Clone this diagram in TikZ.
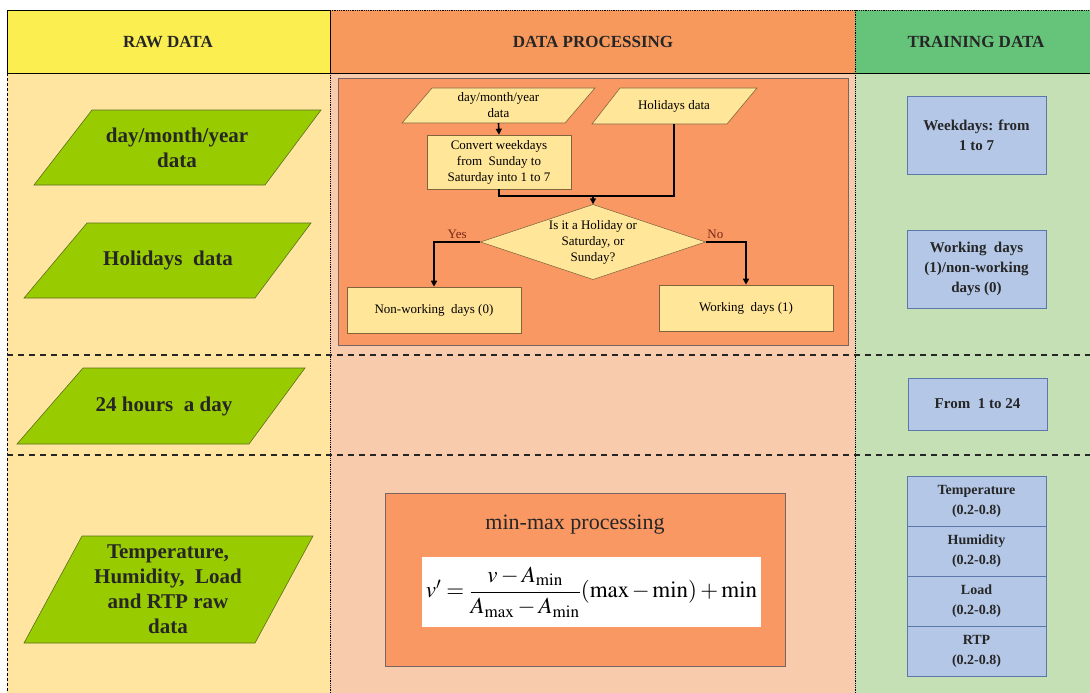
\documentclass[tikz,border=0pt]{standalone}
\usepackage{amsmath}
\usepackage{mathptmx}
\usepackage[no-math]{fontspec}
\setmainfont{Liberation Serif}
\usetikzlibrary{arrows.meta}

\definecolor{hdryellow}{RGB}{250,238,80}
\definecolor{rawbody}{RGB}{255,229,160}
\definecolor{hdrorange}{RGB}{247,153,92}
\definecolor{procbody}{RGB}{248,203,173}
\definecolor{procbox}{RGB}{250,152,100}
\definecolor{procedge}{RGB}{120,100,100}
\definecolor{hdrgreen}{RGB}{102,196,122}
\definecolor{trainbody}{RGB}{197,224,180}
\definecolor{trainblue}{RGB}{180,199,231}
\definecolor{blueedge}{RGB}{90,120,170}
\definecolor{rawgreen}{RGB}{153,204,0}
\definecolor{greenedge}{RGB}{90,110,30}
\definecolor{flowfill}{RGB}{255,230,153}
\definecolor{flowedge}{RGB}{130,100,60}
\definecolor{labelred}{RGB}{120,40,20}

\begin{document}
\begin{tikzpicture}[x=1pt,y=-1pt,
  hdr/.style={font=\fontsize{17}{20}\selectfont\bfseries,text=black!85},
  rawtxt/.style={font=\fontsize{21}{25}\selectfont\bfseries,align=center,text=black!85},
  greenpara/.style={draw=greenedge,fill=rawgreen,line width=0.6pt},
  flowpara/.style={draw=flowedge,fill=flowfill,line width=0.6pt},
  flowtxt/.style={font=\fontsize{13}{16}\selectfont,align=center,inner sep=0pt},
  flowbox/.style={draw=flowedge,fill=flowfill,line width=0.6pt,flowtxt},
  flowarrow/.style={line width=1.6pt,-{Triangle[length=6pt,width=6pt]}},
  trainbox/.style={draw=blueedge,fill=trainblue,line width=0.8pt,
    font=\fontsize{15}{20}\selectfont\bfseries,align=center,
    minimum width=139,inner sep=0pt,text=black!85},
  rowline/.style={dash pattern=on 6pt off 5pt,line width=1.6pt,black!85},
  coldiv/.style={densely dotted,line width=0.8pt}
]
\useasboundingbox (0,0) rectangle (1090,693);

% columns
\fill[rawbody] (7,73) rectangle (330,693);
\fill[procbody] (330,73) rectangle (855,693);
\fill[trainbody] (855,73) rectangle (1090,693);
\fill[hdryellow] (7,10) rectangle (330,73);
\fill[hdrorange] (330,10) rectangle (855,73);
\fill[hdrgreen] (855,10) rectangle (1090,73);
\draw[line width=0.8pt] (7,10) rectangle (330,73);
\draw[line width=0.8pt] (330,73) -- (1090,73);
\draw[coldiv] (330,10) -- (1090,10);
\draw[coldiv] (855,10) -- (855,693);
\draw[coldiv] (330,73) -- (330,693);
\draw[dash pattern=on 3pt off 2pt,line width=0.6pt] (7,73) -- (7,693);
\draw[rowline] (7,355) -- (1090,355);
\draw[rowline] (7,455) -- (1090,455);

\node[hdr] (rawhead) at (168,42) {RAW DATA};
\node[hdr] (prochead) at (593,42) {DATA PROCESSING};
\node[hdr] (trainhead) at (976,42) {TRAINING DATA};

% raw data
\draw[greenpara] (92,110) -- (321,110) -- (265,185) -- (34,185) -- cycle;
\node[rawtxt] (rawdate) at (177,147.5) {day/month/year\\data};
\draw[greenpara] (87,223) -- (311,223) -- (255,298) -- (24,298) -- cycle;
\node[rawtxt] (rawhol) at (168,260.5) {Holidays\ \ data};
\draw[greenpara] (83,368) -- (305,368) -- (249,444) -- (17,444) -- cycle;
\node[rawtxt] (rawhour) at (164,406) {24 hours\ \ a day};
\draw[greenpara] (82,536) -- (313,536) -- (255,643) -- (24,643) -- cycle;
\node[rawtxt] (rawmeas) at (168,589.5) {Temperature,\\Humidity,\ \ Load\\and RTP raw\\data};

% data processing
\draw[procedge,fill=procbox,line width=0.6pt] (338,78) rectangle (848,345);
\draw[flowpara] (432,88) -- (595,88) -- (565,123) -- (402,123) -- cycle;
\node[flowtxt,minimum height=35] (fdate) at (498.5,105.5) {day/month/year\\data};
\draw[flowpara] (620,88) -- (757,88) -- (727,124) -- (592,124) -- cycle;
\node[flowtxt,minimum height=36] (fhol) at (674,106) {Holidays data};
\node[flowbox,minimum width=144,minimum height=54] (convert) at (499,162)
  {Convert weekdays\\from\ \ Sunday to\\Saturday into 1 to 7};
\draw[flowpara] (480.5,242) -- (593,204.5) -- (705.5,242) -- (593,279.5) -- cycle;
\node[flowtxt,minimum width=225,minimum height=75] (decide) at (593,242)
  {Is it a Holiday or\\Saturday, or\\Sunday?};
\node[flowbox,minimum width=174,minimum height=46] (nonwork) at (434,310) {Non-working\ \ days (0)};
\node[flowbox,minimum width=174,minimum height=46] (work) at (746,308) {Working\ \ days (1)};
\coordinate (join) at (593,196);

\draw[flowarrow] (fdate.south) -- (convert.north);
\draw[line width=1.6pt] (convert.south) |- (join);
\draw[flowarrow] (fhol.south) |- (join) -- (decide.north);
\draw[flowarrow] (decide.west) -| node[pos=0.25,above,flowtxt,text=labelred,yshift=3pt] {Yes} (nonwork.north);
\draw[flowarrow] (decide.east) -| node[pos=0.12,above,flowtxt,text=labelred,yshift=3pt] {No} (work.north);

\node[draw=procedge,fill=procbox,line width=0.6pt,minimum width=400,minimum height=173] (minmax) at (585,579.5) {};
\node[font=\fontsize{22}{26}\selectfont,text=black!85] (mmtitle) at (575,525) {min-max processing};
\node[fill=white,minimum width=339,minimum height=70,inner sep=0pt,font=\fontsize{23}{27}\selectfont]
  (formula) at (591.5,592) {$v' = \dfrac{v - A_{\min}}{A_{\max} - A_{\min}}(\max - \min) + \min$};

% training data
\node[trainbox,minimum height=78] (weekout) at (976.5,135) {Weekdays: from\\1 to 7};
\node[trainbox,minimum height=78] (workout) at (976.5,269) {Working\ \ days\\(1)/non-working\\days (0)};
\node[trainbox,minimum height=52] (hourout) at (977.5,404) {From\ \ 1 to 24};
\node[trainbox,minimum height=50,font=\fontsize{14}{20}\selectfont\bfseries] (tempout) at (976.5,501) {Temperature\\(0.2-0.8)};
\node[trainbox,minimum height=50,font=\fontsize{14}{20}\selectfont\bfseries] (humout) at (976.5,551) {Humidity\\(0.2-0.8)};
\node[trainbox,minimum height=50,font=\fontsize{14}{20}\selectfont\bfseries] (loadout) at (976.5,601) {Load\\(0.2-0.8)};
\node[trainbox,minimum height=50,font=\fontsize{14}{20}\selectfont\bfseries] (rtpout) at (976.5,651) {RTP\\(0.2-0.8)};
\end{tikzpicture}
\end{document}
